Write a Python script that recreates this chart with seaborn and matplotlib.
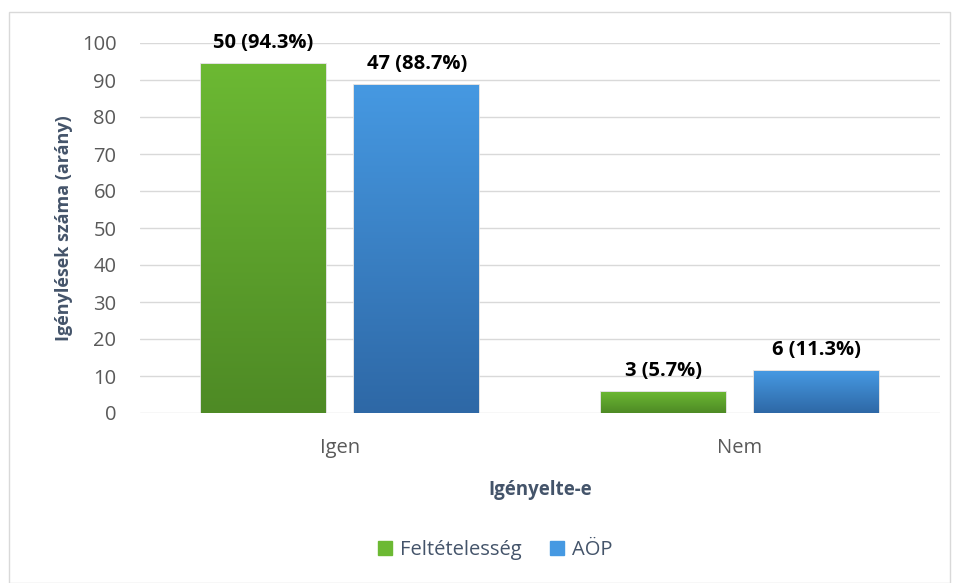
import numpy as np
import pandas as pd
import matplotlib.pyplot as plt
import seaborn as sns
from matplotlib.colors import LinearSegmentedColormap
from matplotlib.patches import Rectangle

# Dados
categorias = ["Igen", "Nem"]
series = ["Feltételesség", "AÖP"]
contagem_feltet = [50, 3]
contagem_aop = [47, 6]
pct_feltet = [94.3, 5.7]
pct_aop = [88.7, 11.3]

df = pd.DataFrame({
    "Igényelte-e": categorias * 2,
    "serie": [series[0]] * 2 + [series[1]] * 2,
    "pct": pct_feltet + pct_aop,
    "n": contagem_feltet + contagem_aop,
})

sns.set_theme(style="white")
plt.rcParams["font.family"] = ["Open Sans", "DejaVu Sans"]

cores_topo = {"Feltételesség": "#6cb933", "AÖP": "#4699e2"}
cores_base = {"Feltételesség": "#4e8a25", "AÖP": "#2e68a6"}

fig = plt.figure(figsize=(9.57, 5.83), dpi=100)
ax = fig.add_axes([140 / 957, 1 - 413 / 583, 800 / 957, 370 / 583])

sns.barplot(data=df, x="Igényelte-e", y="pct", hue="serie", hue_order=series,
            palette=cores_topo, width=0.767, gap=0.186, ax=ax, legend=False,
            edgecolor="#dcdcdc", linewidth=1.2)

ax.set_ylim(0, 100)
ax.set_xlim(-0.5, 1.5)
ax.set_yticks(range(0, 101, 10))
ax.grid(axis="y", color="#d9d9d9", linewidth=1)
ax.set_axisbelow(True)
for s in ax.spines.values():
    s.set_visible(False)
ax.tick_params(axis="both", length=0, labelsize=14.5, colors="#595959")
ax.tick_params(axis="x", pad=18)
ax.tick_params(axis="y", pad=17)

# gradiente vertical dentro de cada barra
ordem = [(s, i) for s in series for i in range(len(categorias))]
for patch, (serie, i) in zip(ax.patches, ordem):
    x0, y0 = patch.get_x(), patch.get_y()
    w, h = patch.get_width(), patch.get_height()
    cmap = LinearSegmentedColormap.from_list("g", [cores_base[serie], cores_topo[serie]])
    grad = np.linspace(0, 1, 256).reshape(-1, 1)
    im = ax.imshow(grad, cmap=cmap, extent=[x0, x0 + w, y0, y0 + h],
                   origin="lower", aspect="auto", zorder=patch.get_zorder() + 0.1)
    im.set_clip_path(patch)
    sub = df[df.serie == serie]
    rotulo = f"{sub['n'].iloc[i]} ({sub['pct'].iloc[i]}%)"
    ax.text(x0 + w / 2, y0 + h + 3, rotulo, ha="center", va="bottom",
            fontsize=14.5, fontweight="bold", color="black")

ax.set_xlabel("Igényelte-e", fontsize=13.5, fontweight="bold", color="#44546a", labelpad=16)
ax.set_ylabel("Igénylések száma (arány)", fontsize=13, fontweight="bold",
              color="#44546a", labelpad=6)

handles = [Rectangle((0, 0), 1, 1, color=cores_topo[s]) for s in series]
fig.legend(handles, series, loc="center", bbox_to_anchor=(495 / 957, 1 - 550 / 583), ncol=2,
           frameon=False, fontsize=14.5, handlelength=0.7, handleheight=0.7,
           columnspacing=1.4, handletextpad=0.4, labelcolor="#44546a")

fig.patches.append(Rectangle((9 / 957, 0), 941 / 957, 1 - 12 / 583, transform=fig.transFigure,
                             fill=False, edgecolor="#d9d9d9", linewidth=1))

fig.savefig("out.png", dpi=100)
